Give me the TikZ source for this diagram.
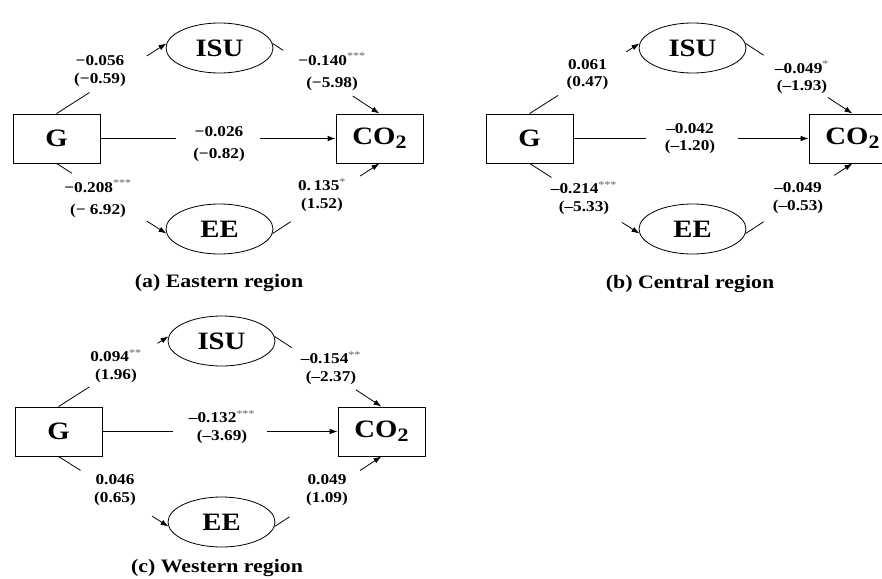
\documentclass[tikz,border=0pt]{standalone}
\usepackage{fontspec}
\setmainfont{Liberation Serif}[FakeStretch=1.15]
\usetikzlibrary{shapes.geometric,calc,arrows.meta}
\newcommand{\stars}[1]{\textsuperscript{\mdseries\color{black!60}#1}}
\newcommand{\cotwo}{CO\raisebox{-0.35ex}{\fontsize{19}{19}\selectfont 2}}
\tikzset{
  var/.style={draw,rectangle,minimum width=87pt,minimum height=49pt,inner sep=0pt,font=\fontsize{25}{26}\selectfont\bfseries},
  lat/.style={draw,ellipse,minimum width=107pt,minimum height=50pt,inner sep=0pt,font=\fontsize{25}{26}\selectfont\bfseries},
  lab/.style={align=center,inner sep=0pt,font=\fontsize{15}{17.5}\selectfont\bfseries},
  capt/.style={anchor=base,inner sep=0pt,font=\fontsize{19}{21}\selectfont\bfseries}
}
\begin{document}
\begin{tikzpicture}[>={Latex[length=8pt,width=5.5pt]},x=1pt,y=-1pt,line width=0.8pt]
\useasboundingbox (0,0) rectangle (882,578);
%% (a) Eastern region
\begin{scope}
  % Node: G
  \node[var] (aG) at (56.5,138.5) {G};
  % Node: CO2
  \node[var] (aCO2) at (379.5,138.5) {\cotwo};
  % Node: ISU
  \node[lat] (aISU) at (219.5,48) {ISU};
  % Node: EE
  \node[lat] (aEE) at (219.5,229) {EE};
  % Edge: G -> ISU
  \draw (aG.north) -- ($(aG.north)!0.30!(aISU.175)$);
  \draw[->] ($(aG.north)!0.82!(aISU.175)$) -- (aISU.175);
  \node[lab] (aGI) at (100,71) {−0.056\\(−0.59)};
  % Edge: ISU -> CO2
  \draw (aISU.5) -- ($(aISU.5)!0.10!(aCO2.north)$);
  \draw[->] ($(aISU.5)!0.75!(aCO2.north)$) -- (aCO2.north);
  \node[lab] (aIC) at (332,72) {−0.140\stars{***}\\[5pt](−5.98)};
  % Edge: G -> CO2
  \draw (aG.east) -- ($(aG.east)!0.32!(aCO2.west)$);
  \draw[->] ($(aG.east)!0.68!(aCO2.west)$) -- (aCO2.west);
  \node[lab] (aGC) at (219,144) {−0.026\\[5pt](−0.82)};
  % Edge: G -> EE
  \draw (aG.south) -- ($(aG.south)!0.14!(aEE.185)$);
  \draw[->] ($(aG.south)!0.82!(aEE.185)$) -- (aEE.185);
  \node[lab] (aGE) at (98,199) {−0.208\stars{***}\\[5pt](− 6.92)};
  % Edge: EE -> CO2
  \draw (aEE.355) -- ($(aEE.355)!0.17!(aCO2.south)$);
  \draw[->] ($(aEE.355)!0.82!(aCO2.south)$) -- (aCO2.south);
  \node[lab] (aEC) at (322,195) {0.\,135\stars{*}\\(1.52)};
  \node[capt] (acap) at (219,287) {(a) Eastern region};
\end{scope}
%% (b) Central region
\begin{scope}[shift={(473,0)}]
  % Node: G
  \node[var] (bG) at (56.5,138.5) {G};
  % Node: CO2
  \node[var] (bCO2) at (379.5,138.5) {\cotwo};
  % Node: ISU
  \node[lat] (bISU) at (219.5,48) {ISU};
  % Node: EE
  \node[lat] (bEE) at (219.5,229) {EE};
  % Edge: G -> ISU
  \draw (bG.north) -- ($(bG.north)!0.26!(bISU.175)$);
  \draw[->] ($(bG.north)!0.88!(bISU.175)$) -- (bISU.175);
  \node[lab] (bGI) at (114.5,74.5) {0.061\\(0.47)};
  % Edge: ISU -> CO2
  \draw (bISU.5) -- ($(bISU.5)!0.17!(bCO2.north)$);
  \draw[->] ($(bISU.5)!0.77!(bCO2.north)$) -- (bCO2.north);
  \node[lab] (bIC) at (329,77.5) {–0.049\stars{*}\\(–1.93)};
  % Edge: G -> CO2
  \draw (bG.east) -- ($(bG.east)!0.31!(bCO2.west)$);
  \draw[->] ($(bG.east)!0.70!(bCO2.west)$) -- (bCO2.west);
  \node[lab] (bGC) at (217,138.5) {–0.042\\(–1.20)};
  % Edge: G -> EE
  \draw (bG.south) -- ($(bG.south)!0.20!(bEE.185)$);
  \draw[->] ($(bG.south)!0.84!(bEE.185)$) -- (bEE.185);
  \node[lab] (bGE) at (111,198) {–0.214\stars{***}\\(–5.33)};
  % Edge: EE -> CO2
  \draw (bEE.355) -- ($(bEE.355)!0.17!(bCO2.south)$);
  \draw[->] ($(bEE.355)!0.83!(bCO2.south)$) -- (bCO2.south);
  \node[lab] (bEC) at (325,198) {–0.049\\(–0.53)};
  \node[capt] (bcap) at (217,288) {(b) Central region};
\end{scope}
%% (c) Western region
\begin{scope}[shift={(2,293)}]
  % Node: G
  \node[var] (cG) at (56.5,138.5) {G};
  % Node: CO2
  \node[var] (cCO2) at (379.5,138.5) {\cotwo};
  % Node: ISU
  \node[lat] (cISU) at (219.5,48) {ISU};
  % Node: EE
  \node[lat] (cEE) at (219.5,229) {EE};
  % Edge: G -> ISU
  \draw (cG.north) -- ($(cG.north)!0.28!(cISU.175)$);
  \draw[->] ($(cG.north)!0.90!(cISU.175)$) -- (cISU.175);
  \node[lab] (cGI) at (114,73) {0.094\stars{**}\\(1.96)};
  % Edge: ISU -> CO2
  \draw (cISU.5) -- ($(cISU.5)!0.16!(cCO2.north)$);
  \draw[->] ($(cISU.5)!0.76!(cCO2.north)$) -- (cCO2.north);
  \node[lab] (cIC) at (329,75) {–0.154\stars{**}\\(–2.37)};
  % Edge: G -> CO2
  \draw (cG.east) -- ($(cG.east)!0.30!(cCO2.west)$);
  \draw[->] ($(cG.east)!0.70!(cCO2.west)$) -- (cCO2.west);
  \node[lab] (cGC) at (220,134) {–0.132\stars{***}\\(–3.69)};
  % Edge: G -> EE
  \draw (cG.south) -- ($(cG.south)!0.20!(cEE.185)$);
  \draw[->] ($(cG.south)!0.85!(cEE.185)$) -- (cEE.185);
  \node[lab] (cGE) at (113,197) {0.046\\(0.65)};
  % Edge: EE -> CO2
  \draw (cEE.355) -- ($(cEE.355)!0.14!(cCO2.south)$);
  \draw[->] ($(cEE.355)!0.80!(cCO2.south)$) -- (cCO2.south);
  \node[lab] (cEC) at (325,197) {0.049\\(1.09)};
  \node[capt] (ccap) at (215,279) {(c) Western region};
\end{scope}
%
\end{tikzpicture}
\end{document}
